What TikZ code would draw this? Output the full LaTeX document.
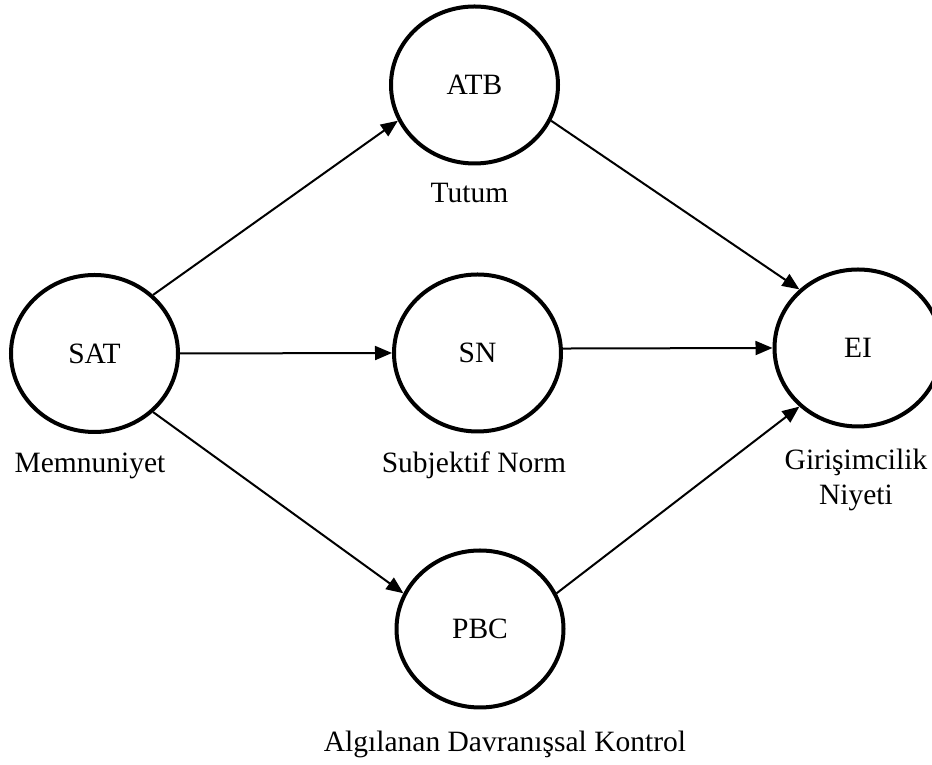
\documentclass[tikz,border=0pt]{standalone}
\usepackage{fontspec}
\setmainfont{Liberation Serif}
\usetikzlibrary{shapes.geometric,arrows.meta}

\tikzset{
    latent/.style={ellipse, draw, line width=4pt, minimum width=167pt, minimum height=157pt, inner sep=0pt},
    lbl/.style={anchor=base, inner sep=0pt, align=center},
    link/.style={line width=2pt, -{Triangle[length=17pt,width=14pt]}}
}

\begin{document}
\begin{tikzpicture}[x=1pt, y=1pt, font=\fontsize{29.5}{35}\selectfont]
    \useasboundingbox (0,0) rectangle (932,765);
    % Constructs
    \node[latent] (SAT) at (94.5,411.5) {SAT};
    \node[latent] (ATB) at (474.5,680) {ATB};
    \node[latent] (SN) at (477.5,412) {SN};
    \node[latent] (PBC) at (480,136) {PBC};
    \node[latent] (EI) at (858,417) {EI};
    % Labels
    \node[lbl] (SATlbl) at (90,292) {Memnuniyet};
    \node[lbl] (ATBlbl) at (469.5,562) {Tutum};
    \node[lbl] (SNlbl) at (474,292) {Subjektif Norm};
    \node[lbl] (PBClbl) at (505,13) {Algılanan Davranışsal Kontrol};
    \node[lbl] (EIlbl) at (856,260) {Girişimcilik\\Niyeti};
    % Paths
    \foreach \from/\to in {SAT.45/ATB.205, SAT.east/SN.west, SAT.-45/PBC.155, ATB.-25/EI.135, SN.3/EI.west, PBC.25/EI.225} {
            \draw[link] (\from) -- (\to);
        }
\end{tikzpicture}
\end{document}
